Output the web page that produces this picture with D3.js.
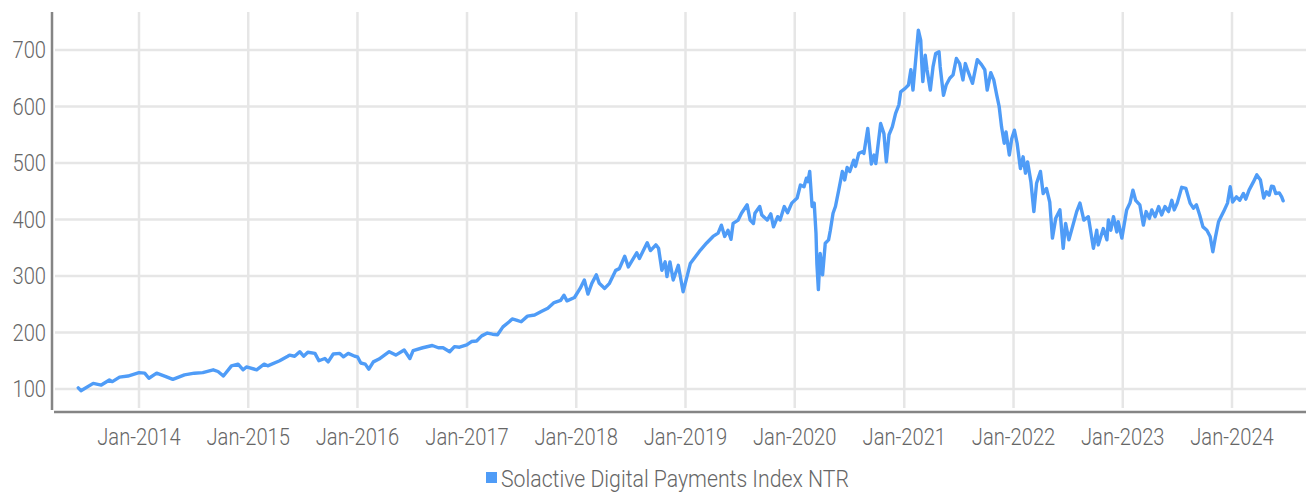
<!DOCTYPE html>
<html><head><meta charset="utf-8">
<script src="https://cdn.jsdelivr.net/npm/d3@7"></script>
<style>
body{margin:0;background:#fff;}
svg text{font-family:Roboto,"Noto Sans",sans-serif;font-weight:300;fill:#666;}
</style></head><body>
<svg id="chart" width="1306" height="494"></svg>
<script>
const dates = [
"2013-06-12","2013-06-21","2013-08-01","2013-08-28","2013-09-24","2013-10-04","2013-10-28","2013-11-25",
"2014-01-01","2014-01-20","2014-02-03","2014-03-01","2014-04-01","2014-04-24","2014-06-02","2014-07-05",
"2014-08-02","2014-09-06","2014-09-22","2014-10-10","2014-11-06","2014-11-28","2014-12-15","2014-12-26",
"2015-01-29","2015-02-23","2015-03-07","2015-04-16","2015-05-13","2015-05-19","2015-06-05","2015-06-22",
"2015-07-05","2015-07-19","2015-08-12","2015-08-25","2015-09-14","2015-09-25","2015-10-12","2015-11-03",
"2015-11-15","2015-12-01","2015-12-23","2016-01-01","2016-01-12","2016-01-27","2016-02-08","2016-02-23",
"2016-03-13","2016-04-16","2016-05-08","2016-06-05","2016-06-24","2016-07-05","2016-08-06","2016-09-07",
"2016-09-27","2016-10-13","2016-11-04","2016-11-20","2016-12-07","2016-12-31","2017-01-16","2017-02-02",
"2017-02-19","2017-03-10","2017-03-27","2017-04-13","2017-05-01","2017-05-22","2017-06-01","2017-06-15",
"2017-07-01","2017-07-22","2017-08-15","2017-09-06","2017-09-28","2017-10-19","2017-11-10","2017-11-21",
"2017-12-01","2017-12-26","2018-01-14","2018-01-28","2018-02-09","2018-02-22","2018-03-09","2018-03-19",
"2018-04-06","2018-04-22","2018-05-13","2018-05-25","2018-06-12","2018-06-24","2018-07-22","2018-07-31",
"2018-08-26","2018-09-06","2018-09-24","2018-10-03","2018-10-14","2018-10-25","2018-10-31","2018-11-10",
"2018-11-21","2018-12-08","2018-12-24","2019-01-17","2019-02-20","2019-03-12","2019-04-03","2019-04-20",
"2019-05-01","2019-05-12","2019-05-23","2019-06-02","2019-06-09","2019-06-26","2019-07-07","2019-07-26",
"2019-08-05","2019-08-16","2019-08-21","2019-09-06","2019-09-13","2019-10-01","2019-10-13","2019-10-22",
"2019-11-05","2019-11-13","2019-11-27","2019-12-08","2019-12-22","2020-01-09","2020-01-20","2020-02-01",
"2020-02-09","2020-02-14","2020-02-20","2020-02-28","2020-03-06","2020-03-12","2020-03-15","2020-03-20",
"2020-03-26","2020-04-03","2020-04-12","2020-04-23","2020-04-29","2020-05-08","2020-05-16","2020-05-27",
"2020-06-08","2020-06-16","2020-06-24","2020-07-03","2020-07-16","2020-07-22","2020-08-02","2020-08-14",
"2020-08-19","2020-09-01","2020-09-06","2020-09-13","2020-09-22","2020-09-28","2020-10-14","2020-10-25",
"2020-11-02","2020-11-11","2020-11-22","2020-12-03","2020-12-14","2020-12-20","2021-01-04","2021-01-15",
"2021-01-23","2021-01-30","2021-02-17","2021-02-25","2021-02-28","2021-03-04","2021-03-12","2021-03-18",
"2021-03-29","2021-04-07","2021-04-16","2021-04-27","2021-05-01","2021-05-12","2021-05-21","2021-06-02",
"2021-06-13","2021-06-24","2021-07-05","2021-07-16","2021-07-24","2021-08-02","2021-08-17","2021-09-02",
"2021-09-16","2021-09-27","2021-10-05","2021-10-17","2021-10-27","2021-11-06","2021-11-14","2021-11-22",
"2021-12-01","2021-12-07","2021-12-18","2021-12-26","2022-01-04","2022-01-13","2022-01-24","2022-02-02",
"2022-02-10","2022-02-17","2022-02-28","2022-03-10","2022-03-19","2022-04-01","2022-04-10","2022-04-21",
"2022-05-02","2022-05-11","2022-05-22","2022-06-05","2022-06-16","2022-06-24","2022-07-05","2022-07-17",
"2022-07-31","2022-08-11","2022-08-24","2022-09-08","2022-09-25","2022-10-06","2022-10-11","2022-10-28",
"2022-11-09","2022-11-14","2022-11-22","2022-12-01","2022-12-12","2022-12-17","2022-12-29","2023-01-14",
"2023-01-25","2023-02-04","2023-02-13","2023-02-27","2023-03-11","2023-03-20","2023-03-31","2023-04-08",
"2023-04-19","2023-05-01","2023-05-11","2023-05-22","2023-06-03","2023-06-14","2023-06-22","2023-07-02",
"2023-07-17","2023-07-31","2023-08-14","2023-08-25","2023-09-04","2023-09-15","2023-09-26","2023-10-09",
"2023-10-20","2023-10-29","2023-11-06","2023-11-17","2023-12-04","2023-12-17","2023-12-26","2024-01-03",
"2024-01-16","2024-01-27","2024-02-08","2024-02-16","2024-02-27","2024-03-13","2024-03-24","2024-04-05",
"2024-04-16","2024-04-25","2024-05-04","2024-05-12","2024-05-19","2024-05-26","2024-06-07","2024-06-15",
"2024-06-20"
];
const values = [
102,97,110,107,116,113,121,123,
129,128,119,128,122,117,125,128,
129,134,131,123,141,144,134,139,
134,144,141,150,158,160,158,166,
158,165,163,150,154,148,162,163,
157,163,158,157,146,144,135,148,
153,166,160,169,154,168,173,177,
173,173,166,175,174,178,184,185,
194,199,197,196,210,219,224,222,
219,229,231,237,243,253,257,266,
256,262,278,293,268,287,302,287,
278,287,310,313,335,316,341,331,
359,345,355,349,310,325,299,325,
293,319,272,322,346,358,370,376,
390,370,381,365,393,399,411,426,
399,393,411,423,408,399,410,387,
405,399,423,412,429,438,461,458,
473,467,485,423,429,376,322,276,
340,302,358,364,381,411,423,452,
485,470,492,485,505,494,517,520,
517,561,535,498,514,499,570,552,
502,550,564,588,603,626,632,638,
665,629,735,717,680,644,691,665,
629,670,694,697,670,620,638,650,
656,685,676,647,676,662,641,683,
674,665,629,660,647,620,600,564,
535,555,514,543,558,535,490,511,
482,502,467,414,464,485,446,455,
431,367,402,417,349,393,364,387,
414,429,399,405,349,381,355,384,
364,399,381,405,378,396,367,417,
429,452,434,426,390,414,402,417,
405,423,408,423,414,434,417,429,
457,455,429,420,426,408,387,381,
370,343,367,396,414,429,458,431,
440,434,446,436,452,467,479,470,
438,449,443,459,458,446,447,440,
433
];
const yTicks = [100,200,300,400,500,600,700];
const xTickDates = ["2014-01-01","2015-01-01","2016-01-01","2017-01-01","2018-01-01","2019-01-01","2020-01-01","2021-01-01","2022-01-01","2023-01-01","2024-01-01"];
const seriesName = "Solactive Digital Payments Index NTR";

const lineColor = "#4f9cf7";
const gridColor = "#e6e6e6";
const axisColor = "#858585";
const fontSize = 24, squeeze = 0.84, legendSqueeze = 0.885;

const parse = d3.utcParse("%Y-%m-%d");
const data = dates.map((d,i)=>({date:parse(d), value:values[i]}));

const plotLeft = 55, plotRight = 1306, plotTop = 12, plotBottom = 410;
const x = d3.scaleUtc().domain([parse("2014-01-01"), parse("2024-01-01")]).range([139, 1232]);
x.domain([x.invert(plotLeft), x.invert(plotRight)]).range([plotLeft, plotRight]);
const y = d3.scaleLinear().domain([100,700]).range([389,50]);
y.domain([y.invert(plotBottom), y.invert(plotTop)]).range([plotBottom, plotTop]);

const svg = d3.select("#chart");

svg.append("g").selectAll("line").data(yTicks).join("line")
  .attr("x1", plotLeft).attr("x2", plotRight)
  .attr("y1", d=>y(d)).attr("y2", d=>y(d))
  .attr("stroke", gridColor).attr("stroke-width", 2.5);
svg.append("g").selectAll("line").data(xTickDates).join("line")
  .attr("x1", d=>x(parse(d))).attr("x2", d=>x(parse(d)))
  .attr("y1", plotTop).attr("y2", plotBottom-2)
  .attr("stroke", gridColor).attr("stroke-width", 2.5);

svg.append("line").attr("x1",52).attr("x2",52).attr("y1",plotTop).attr("y2",plotBottom)
  .attr("stroke",axisColor).attr("stroke-width",2.5);
svg.append("line").attr("x1",plotLeft-1).attr("x2",plotRight).attr("y1",412).attr("y2",412)
  .attr("stroke",axisColor).attr("stroke-width",2.5);

svg.append("g").selectAll("text").data(yTicks).join("text")
  .attr("transform", d=>`translate(46,${y(d)}) scale(${squeeze},1)`)
  .attr("text-anchor","end").attr("dy","0.35em")
  .style("font-size", fontSize+"px")
  .text(d=>d);

const fmt = d3.utcFormat("%b-%Y");
svg.append("g").selectAll("text").data(xTickDates).join("text")
  .attr("transform", d=>`translate(${x(parse(d))},445) scale(${squeeze},1)`)
  .attr("text-anchor","middle")
  .style("font-size", fontSize+"px")
  .text(d=>fmt(parse(d)));

const line = d3.line().x(d=>x(d.date)).y(d=>y(d.value)).curve(d3.curveLinear);
svg.append("path").datum(data)
  .attr("d", line).attr("fill","none")
  .attr("stroke", lineColor).attr("stroke-width", 3.4)
  .attr("stroke-linejoin","round").attr("stroke-linecap","round");

const leg = svg.append("g");
leg.append("rect").attr("x",486).attr("y",472).attr("width",11).attr("height",11).attr("fill",lineColor);
leg.append("text").attr("transform",`translate(501,487) scale(${legendSqueeze},1)`)
  .style("font-size", fontSize+"px").text(seriesName);
</script>
</body></html>
